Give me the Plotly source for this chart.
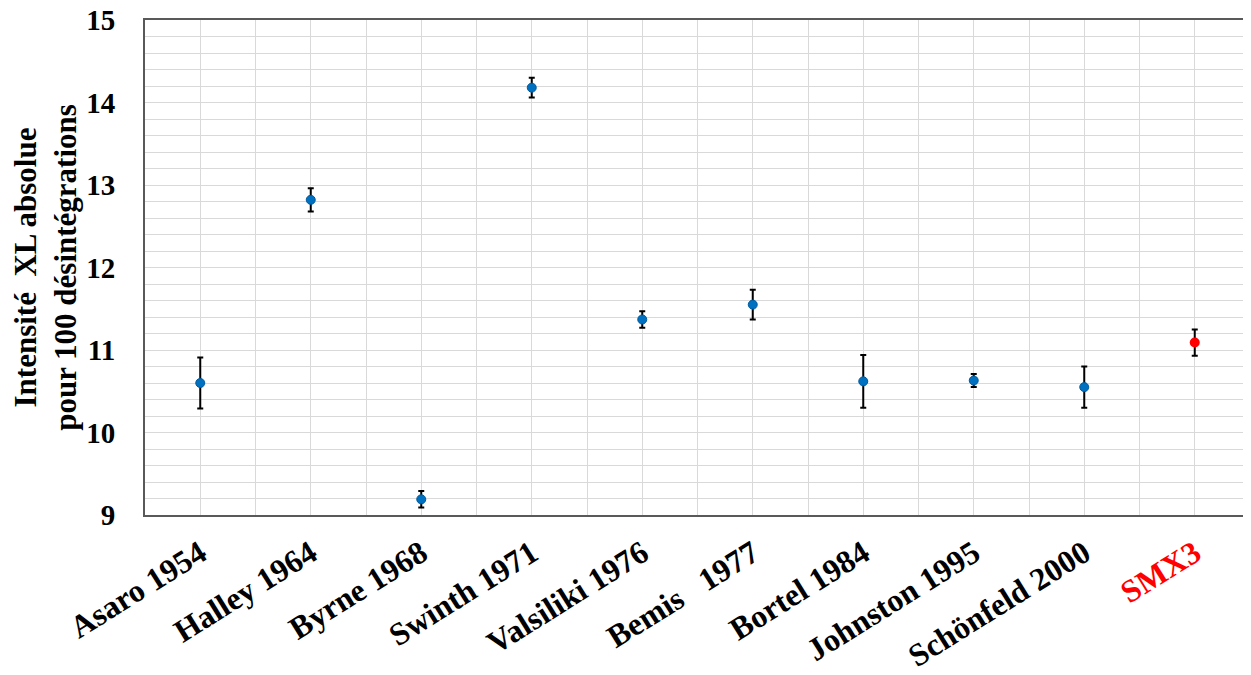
import plotly.graph_objects as go

categories = ["Asaro 1954", "Halley 1964", "Byrne 1968", "Swinth 1971", "Valsiliki 1976",
              "Bemis   1977", "Bortel 1984", "Johnston 1995", "Schönfeld 2000", "SMX3"]
values = [10.60, 12.82, 9.19, 14.18, 11.37, 11.55, 10.62, 10.63, 10.55, 11.09]
errors = [0.31, 0.14, 0.10, 0.12, 0.10, 0.18, 0.32, 0.08, 0.25, 0.16]
y_ticks = [9, 10, 11, 12, 13, 14, 15]

positions = list(range(1, len(categories) + 1))
ticktext = [c.replace(" ", "&nbsp;") if c != "SMX3" else '<span style="color:#FF0000">SMX3</span>'
            for c in categories]

n_ref = len(categories) - 1

fig = go.Figure()
fig.add_trace(go.Scatter(
    x=positions[:n_ref], y=values[:n_ref], mode="markers",
    marker=dict(symbol="circle", size=9, color="#0070C0", line=dict(color="#005A9E", width=1)),
    error_y=dict(type="data", array=errors[:n_ref], visible=True, color="#000000",
                 thickness=2, width=3),
    showlegend=False,
))
fig.add_trace(go.Scatter(
    x=positions[n_ref:], y=values[n_ref:], mode="markers",
    marker=dict(symbol="circle", size=10, color="#FF0000", line=dict(color="#FF0000", width=0)),
    error_y=dict(type="data", array=errors[n_ref:], visible=True, color="#000000",
                 thickness=2, width=3),
    showlegend=False,
))

font_family = "Liberation Serif, Times New Roman, serif"

fig.update_layout(
    width=1251, height=675,
    margin=dict(l=137, r=9, t=12, b=168),
    paper_bgcolor="white", plot_bgcolor="white",
    font=dict(family=font_family, color="#000000"),
    xaxis=dict(
        range=[0.5, 10.5], tickmode="array", tickvals=positions, ticktext=ticktext,
        tickangle=-32, tickfont=dict(size=32, family=font_family, weight="bold"),
        showgrid=True, gridcolor="#D9D9D9", gridwidth=1,
        minor=dict(dtick=0.5, tick0=0.5, showgrid=True, gridcolor="#D9D9D9", gridwidth=1),
        showline=True, linecolor="#595959", linewidth=2, mirror=True,
        ticks="", zeroline=False, automargin=False,
        ticklabelstandoff=5, ticklabeloverflow="allow",
    ),
    yaxis=dict(
        range=[9, 15], tickmode="array", tickvals=y_ticks,
        tickfont=dict(size=29, family=font_family, weight="bold"),
        showgrid=True, gridcolor="#D9D9D9", gridwidth=1,
        minor=dict(dtick=0.2, tick0=9, showgrid=True, gridcolor="#D9D9D9", gridwidth=1),
        showline=True, linecolor="#595959", linewidth=2,
        ticks="", zeroline=False, ticklabelstandoff=22, automargin=False,
        ticklabeloverflow="allow",
        title=dict(text="Intensité  XL absolue<br>pour 100 désintégrations",
                   font=dict(size=31, family=font_family, weight="bold"), standoff=4),
    ),
)

fig.write_html("out.html")
